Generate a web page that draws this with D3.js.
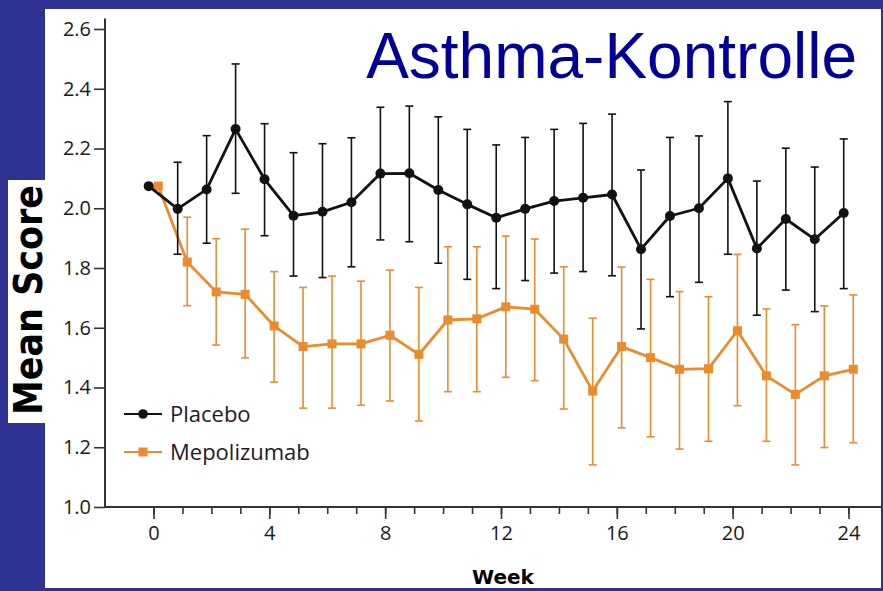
<!DOCTYPE html>
<html>
<head>
<meta charset="utf-8">
<script src="https://cdn.jsdelivr.net/npm/d3@7"></script>
<style>
  html, body { margin: 0; padding: 0; background: #2e3393; }
  svg { display: block; }
</style>
</head>
<body>
<svg id="chart" width="883" height="591"></svg>
<script>
// data
var weeks = [0, 1, 2, 3, 4, 5, 6, 7, 8, 9, 10, 11, 12, 13, 14, 15, 16, 17, 18, 19, 20, 21, 22, 23, 24];

var placebo = [2.074, 1.998, 2.063, 2.265, 2.097, 1.975, 1.988, 2.020, 2.116, 2.117, 2.061, 2.013, 1.968,
  1.998, 2.024, 2.035, 2.046, 1.863, 1.974, 2.000, 2.100, 1.865, 1.964, 1.896, 1.984];
var placeboHi = [null, 2.154, 2.243, 2.483, 2.283, 2.186, 2.216, 2.236, 2.338, 2.342, 2.306, 2.264, 2.212,
  2.237, 2.264, 2.284, 2.315, 2.128, 2.237, 2.242, 2.357, 2.091, 2.201, 2.138, 2.232];
var placeboLo = [null, 1.846, 1.883, 2.050, 1.908, 1.773, 1.768, 1.804, 1.894, 1.888, 1.816, 1.762, 1.731,
  1.758, 1.783, 1.788, 1.774, 1.596, 1.704, 1.752, 1.846, 1.642, 1.726, 1.654, 1.731];

var mepo = [2.074, 1.820, 1.720, 1.712, 1.606, 1.537, 1.546, 1.546, 1.575, 1.511, 1.626, 1.630, 1.670,
  1.662, 1.562, 1.388, 1.537, 1.500, 1.461, 1.463, 1.590, 1.439, 1.377, 1.439, 1.461];
var mepoHi = [null, 1.970, 1.898, 1.930, 1.788, 1.735, 1.773, 1.756, 1.793, 1.735, 1.871, 1.871, 1.907,
  1.897, 1.804, 1.632, 1.803, 1.762, 1.721, 1.704, 1.846, 1.663, 1.610, 1.673, 1.710];
var mepoLo = [null, 1.674, 1.542, 1.499, 1.418, 1.331, 1.331, 1.341, 1.355, 1.288, 1.386, 1.386, 1.434,
  1.423, 1.328, 1.141, 1.265, 1.235, 1.194, 1.220, 1.339, 1.220, 1.141, 1.199, 1.215];

var yTicks = [1.0, 1.2, 1.4, 1.6, 1.8, 2.0, 2.2, 2.4, 2.6];
var xMajor = [0, 4, 8, 12, 16, 20, 24];

var navy = "#2e3393",
    orange = "#ea8b2d",
    ink = "#111";

var svg = d3.select("#chart");

// white panel + label box
svg.append("rect").attr("x", 45).attr("y", 9).attr("width", 836).attr("height", 579).attr("fill", "#fff");
svg.append("rect").attr("x", 8).attr("y", 180).attr("width", 40).attr("height", 243).attr("fill", "#fff");

var x = d3.scaleLinear().domain([0, 24]).range([153.5, 848.5]);
var y = d3.scaleLinear().domain([1.0, 2.6]).range([507, 29]);

// y axis
var yAxis = svg.append("g")
  .attr("transform", "translate(105,0)")
  .call(d3.axisLeft(y).tickValues(yTicks).tickFormat(d3.format(".1f")).tickSize(11).tickPadding(3))
  .call(g => g.select(".domain").remove());
yAxis.selectAll(".tick line").attr("stroke", "#333").attr("stroke-width", 1.6);
yAxis.selectAll("text")
  .attr("fill", "#1a1a1a")
  .style("font-family", "'Open Sans', sans-serif")
  .style("font-size", "20px");

svg.append("line")
  .attr("x1", 105).attr("x2", 105)
  .attr("y1", y(1.0)).attr("y2", y(2.635))
  .attr("stroke", "#333").attr("stroke-width", 2);

// x axis: minor ticks each week, major every 4
var xMinor = svg.append("g")
  .attr("transform", "translate(0," + y(1.0) + ")")
  .call(d3.axisBottom(x).tickValues(weeks).tickFormat("").tickSize(7))
  .call(g => g.select(".domain").remove());
xMinor.selectAll(".tick line").attr("stroke", "#333").attr("stroke-width", 1.6);

var xAxis = svg.append("g")
  .attr("transform", "translate(0," + y(1.0) + ")")
  .call(d3.axisBottom(x).tickValues(xMajor).tickFormat(d3.format("d")).tickSize(12).tickPadding(7))
  .call(g => g.select(".domain").remove());
xAxis.selectAll(".tick line").attr("stroke", "#333").attr("stroke-width", 1.6);
xAxis.selectAll("text")
  .attr("fill", "#1a1a1a")
  .style("font-family", "'Open Sans', sans-serif")
  .style("font-size", "20px");

svg.append("line")
  .attr("x1", 104).attr("x2", 881)
  .attr("y1", y(1.0)).attr("y2", y(1.0))
  .attr("stroke", "#333").attr("stroke-width", 2);

// series
function drawSeries(vals, lo, hi, shift, color, marker) {
  var pts = weeks.map((w, i) => ({ w: w + shift, v: vals[i], lo: lo[i], hi: hi[i] }));
  var g = svg.append("g");

  var bars = pts.filter(d => d.hi != null);
  g.selectAll(".eb").data(bars).enter().append("line")
    .attr("x1", d => x(d.w)).attr("x2", d => x(d.w))
    .attr("y1", d => y(d.lo)).attr("y2", d => y(d.hi))
    .attr("stroke", color).attr("stroke-width", 1.6);
  ["lo", "hi"].forEach(function(k) {
    g.selectAll(".cap-" + k).data(bars).enter().append("line")
      .attr("x1", d => x(d.w) - 4).attr("x2", d => x(d.w) + 4)
      .attr("y1", d => y(d[k])).attr("y2", d => y(d[k]))
      .attr("stroke", color).attr("stroke-width", 1.6);
  });

  g.append("path")
    .datum(pts)
    .attr("fill", "none")
    .attr("stroke", color)
    .attr("stroke-width", 2.8)
    .attr("stroke-linejoin", "round")
    .attr("d", d3.line().x(d => x(d.w)).y(d => y(d.v)));

  if (marker === "circle") {
    g.selectAll("circle").data(pts).enter().append("circle")
      .attr("cx", d => x(d.w)).attr("cy", d => y(d.v)).attr("r", 5)
      .attr("fill", color);
  } else {
    g.selectAll("rect").data(pts).enter().append("rect")
      .attr("x", d => x(d.w) - 4.5).attr("y", d => y(d.v) - 4.5)
      .attr("width", 9).attr("height", 9)
      .attr("fill", color);
  }
}

drawSeries(mepo, mepoLo, mepoHi, 0.165, orange, "square");
drawSeries(placebo, placeboLo, placeboHi, -0.165, ink, "circle");

// legend
var legend = [
  { name: "Placebo", color: ink, marker: "circle", y: 414 },
  { name: "Mepolizumab", color: orange, marker: "square", y: 452 }
];
legend.forEach(function(d) {
  svg.append("line").attr("x1", 124).attr("x2", 162).attr("y1", d.y).attr("y2", d.y)
    .attr("stroke", d.color).attr("stroke-width", 1.8);
  if (d.marker === "circle") {
    svg.append("circle").attr("cx", 143).attr("cy", d.y).attr("r", 4.8).attr("fill", d.color);
  } else {
    svg.append("rect").attr("x", 138.5).attr("y", d.y - 4.5).attr("width", 9).attr("height", 9).attr("fill", d.color);
  }
  svg.append("text")
    .attr("x", 170).attr("y", d.y + 8)
    .attr("fill", "#1a1a2a")
    .style("font-family", "'Open Sans', sans-serif")
    .style("font-size", "22px")
    .text(d.name);
});

// title and axis titles
svg.append("text")
  .attr("x", 857).attr("y", 78)
  .attr("text-anchor", "end")
  .attr("fill", "#000099")
  .style("font-family", "'Liberation Sans', Arial, sans-serif")
  .style("font-size", "64px")
  .text("Asthma-Kontrolle");

svg.append("text")
  .attr("transform", "translate(42,300) rotate(-90) scale(1,1.12)")
  .attr("text-anchor", "middle")
  .attr("fill", "#000")
  .style("font-family", "'DejaVu Sans', sans-serif")
  .style("font-weight", "bold")
  .style("font-size", "35px")
  .text("Mean Score");

svg.append("text")
  .attr("x", 503).attr("y", 584)
  .attr("text-anchor", "middle")
  .attr("fill", "#000")
  .style("font-family", "'DejaVu Sans', sans-serif")
  .style("font-weight", "bold")
  .style("font-size", "20px")
  .text("Week");

// bottom and right border strips over the panel
svg.append("rect").attr("x", 0).attr("y", 588).attr("width", 883).attr("height", 3).attr("fill", navy);
svg.append("rect").attr("x", 881).attr("y", 0).attr("width", 2).attr("height", 591).attr("fill", navy);
</script>
</body>
</html>
